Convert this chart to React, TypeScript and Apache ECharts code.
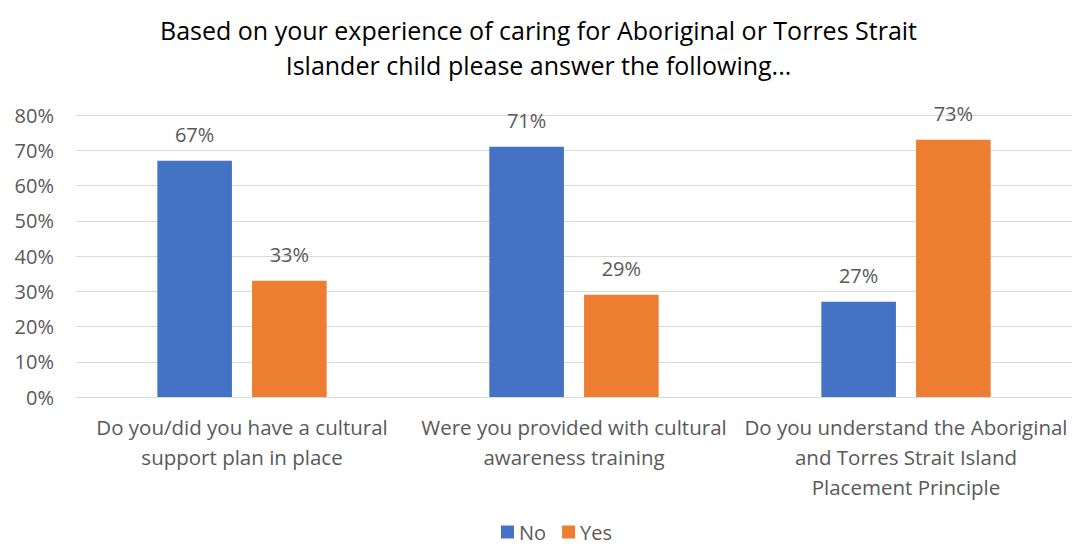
import React, { useEffect, useRef } from "react";
import * as echarts from "echarts";

const titleText = "Based on your experience of caring for Aboriginal or Torres Strait\nIslander child please answer the following...";
const categories = [
  "Do you/did you have a cultural\nsupport plan in place",
  "Were you provided with cultural\nawareness training",
  "Do you understand the Aboriginal\nand Torres Strait Island\nPlacement Principle",
];
const noValues = [67, 71, 27];
const yesValues = [33, 29, 73];
const seriesNames = ["No", "Yes"];
const colors = ["#4472C4", "#ED7D31"];

const FONT = "'Open Sans', 'Liberation Sans', sans-serif";
const TXT = "#595959";

export default function App() {
  const ref = useRef<HTMLDivElement>(null);
  useEffect(() => {
    document.body.style.margin = "0";
    const chart = echarts.init(ref.current!, null, { renderer: "svg" });
    const label = {
      show: true,
      position: "top" as const,
      distance: 16,
      formatter: "{c}%",
      color: TXT,
      fontSize: 20,
      fontFamily: FONT,
    };
    chart.setOption({
      animation: false,
      textStyle: { fontFamily: FONT },
      title: {
        text: titleText,
        left: "center",
        top: 7,
        textStyle: { fontSize: 25, fontWeight: "normal", color: "#000", fontFamily: FONT, lineHeight: 35 },
      },
      legend: {
        bottom: 0,
        left: 496,
        itemWidth: 13,
        itemHeight: 13,
        itemGap: 16,
        icon: "rect",
        textStyle: { fontSize: 20, color: TXT, fontFamily: FONT },
        data: seriesNames,
      },
      grid: { left: 76, right: 5, top: 115, bottom: 150, containLabel: false },
      xAxis: {
        type: "category",
        data: categories,
        axisTick: { show: false },
        axisLine: { lineStyle: { color: "#d9d9d9" } },
        axisLabel: { color: TXT, fontSize: 20.5, fontFamily: FONT, lineHeight: 30, margin: 15, interval: 0 },
      },
      yAxis: {
        type: "value",
        min: 0,
        max: 80,
        interval: 10,
        axisLabel: { formatter: "{value}%", color: TXT, fontSize: 20, fontFamily: FONT, margin: 22 },
        splitLine: { lineStyle: { color: "#d9d9d9" } },
        axisLine: { show: false },
        axisTick: { show: false },
      },
      series: [
        { name: seriesNames[0], type: "bar", data: noValues, itemStyle: { color: colors[0] }, barGap: "27%", barCategoryGap: "49%", label },
        { name: seriesNames[1], type: "bar", data: yesValues, itemStyle: { color: colors[1] }, barGap: "27%", barCategoryGap: "49%", label },
      ],
    });
    return () => chart.dispose();
  }, []);
  return <div ref={ref} style={{ width: 1077, height: 547 }} />;
}
